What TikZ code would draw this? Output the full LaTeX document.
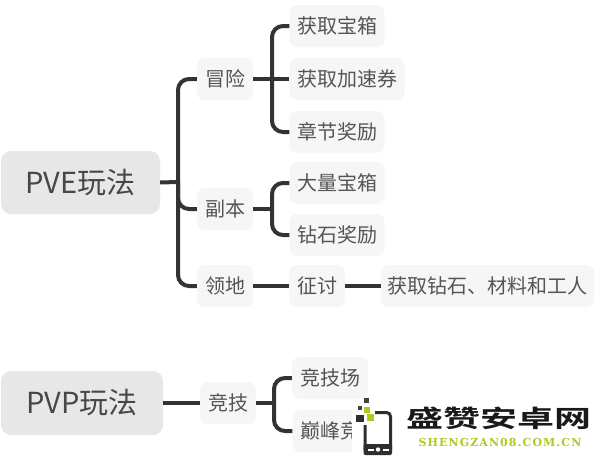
\documentclass[tikz,border=0pt]{standalone}
\usepackage{fontspec}
\setmainfont{Noto Sans CJK SC}[Scale=1]
\newfontfamily\logofont{Noto Sans CJK SC Bold}
\newfontfamily\urlfont{DejaVu Serif Bold}[LetterSpace=10]
\usetikzlibrary{calc}
\definecolor{ln}{HTML}{333333}
\definecolor{tx}{HTML}{555555}
\definecolor{lime}{HTML}{A9CC1E}
\tikzset{x=1pt,y=-1pt,
 sub/.style={fill=black!3.5,rounded corners=8pt,text=tx,inner sep=0pt,anchor=center,font=\fontsize{20}{24}\selectfont},
 big/.style={fill=black!9.5,rounded corners=10pt,text=black!72,inner sep=0pt,anchor=center,font=\fontsize{29}{34}\selectfont},
 con/.style={line width=4pt,draw=ln,rounded corners=11pt,line cap=butt},
 sq/.style={fill=#1,draw=none}}
\begin{document}
\begin{tikzpicture}
\useasboundingbox (0,0) rectangle (600,458);
\fill[white] (0,0) rectangle (600,458);
\node[big,minimum width=159pt,minimum height=63pt] (pve) at (80.5,182.5) {PVE玩法};
\node[big,minimum width=162pt,minimum height=64pt] (pvp) at (82,403) {PVP玩法};
\node[sub,minimum width=56pt,minimum height=42pt] (mx) at (225,79) {冒险};
\node[sub,minimum width=56pt,minimum height=42pt] (fb) at (225,209) {副本};
\node[sub,minimum width=56pt,minimum height=42pt] (ld) at (225,286) {领地};
\node[sub,minimum width=95pt,minimum height=42pt] (a1) at (337,26) {获取宝箱};
\node[sub,minimum width=115pt,minimum height=42pt] (a2) at (347,79) {获取加速券};
\node[sub,minimum width=95pt,minimum height=42pt] (a3) at (337,132) {章节奖励};
\node[sub,minimum width=95pt,minimum height=42pt] (b1) at (337,183) {大量宝箱};
\node[sub,minimum width=95pt,minimum height=42pt] (b2) at (337,235) {钻石奖励};
\node[sub,minimum width=56pt,minimum height=42pt] (zt) at (317,286) {征讨};
\node[sub,minimum width=213pt,minimum height=42pt] (hq) at (487.5,286) {获取钻石、材料和工人};
\node[sub,minimum width=76pt,minimum height=42pt] (jjc) at (330,378) {竞技场};
\node[sub,minimum width=56pt,minimum height=42pt] (jj) at (228,403) {竞技};
\node[sub,minimum width=115pt,minimum height=42pt] (df) at (350,431) {巅峰竞技场};
% connectors
\coordinate (t1) at (178,182);
\coordinate (t2) at (272,79);
\coordinate (t3) at (272,209);
\coordinate (t4) at (274,403);
\draw[con] (pve.east) -- (t1);
\draw[con] (t1) |- (mx.west);
\draw[con] (t1) |- (fb.west);
\draw[con] (t1) |- (ld.west);
\draw[con] (mx.east) -- (a2.west);
\draw[con] (t2) |- (a1.west);
\draw[con] (t2) |- (a3.west);
\draw[con] (fb.east) -- (t3);
\draw[con] (t3) |- (b1.west);
\draw[con] (t3) |- (b2.west);
\draw[con] (ld.east) -- (zt.west);
\draw[con] (zt.east) -- (hq.west);
\draw[con] (pvp.east) -- (jj.west);
\draw[con] (jj.east) -- (t4);
\draw[con] (t4) |- (jjc.west);
\draw[con] (t4) |- (df.west);
% watermark
\fill[white] (355,399) rectangle (600,458);
\fill[white] (352,410) rectangle (362,458);
\draw[line width=3pt,draw=black!82,rounded corners=4pt] (375,412.5) -- (390.5,412.5) -- (390.5,453) -- (365,453) -- (365,425);
\fill[black!82,rounded corners=2pt] (363.5,444) rectangle (392,455);
\fill[white] (368,448.5) rectangle (374,450.5);
\fill[white] (383,448.5) rectangle (389,450.5);
\fill[white] (378,449.5) circle (2.2pt);
\fill[sq=black!75] (364,398) rectangle (369,403);
\fill[sq=black!75] (358,406) rectangle (362,410);
\fill[sq=lime] (364,407) rectangle (370,413);
\fill[sq=black!82] (356,415) rectangle (364,422);
\fill[sq=lime] (367,414) rectangle (374,421);
\node[inner sep=0pt,text=black!90,xscale=1.54,font=\logofont\fontsize{24}{28}\selectfont] (logo) at (499,418) {盛赞安卓网};
\node[inner sep=0pt,text=lime,font=\urlfont\fontsize{11}{12}\selectfont] (url) at (500,442.5) {SHENGZAN08.COM.CN};
\end{tikzpicture}
\end{document}
